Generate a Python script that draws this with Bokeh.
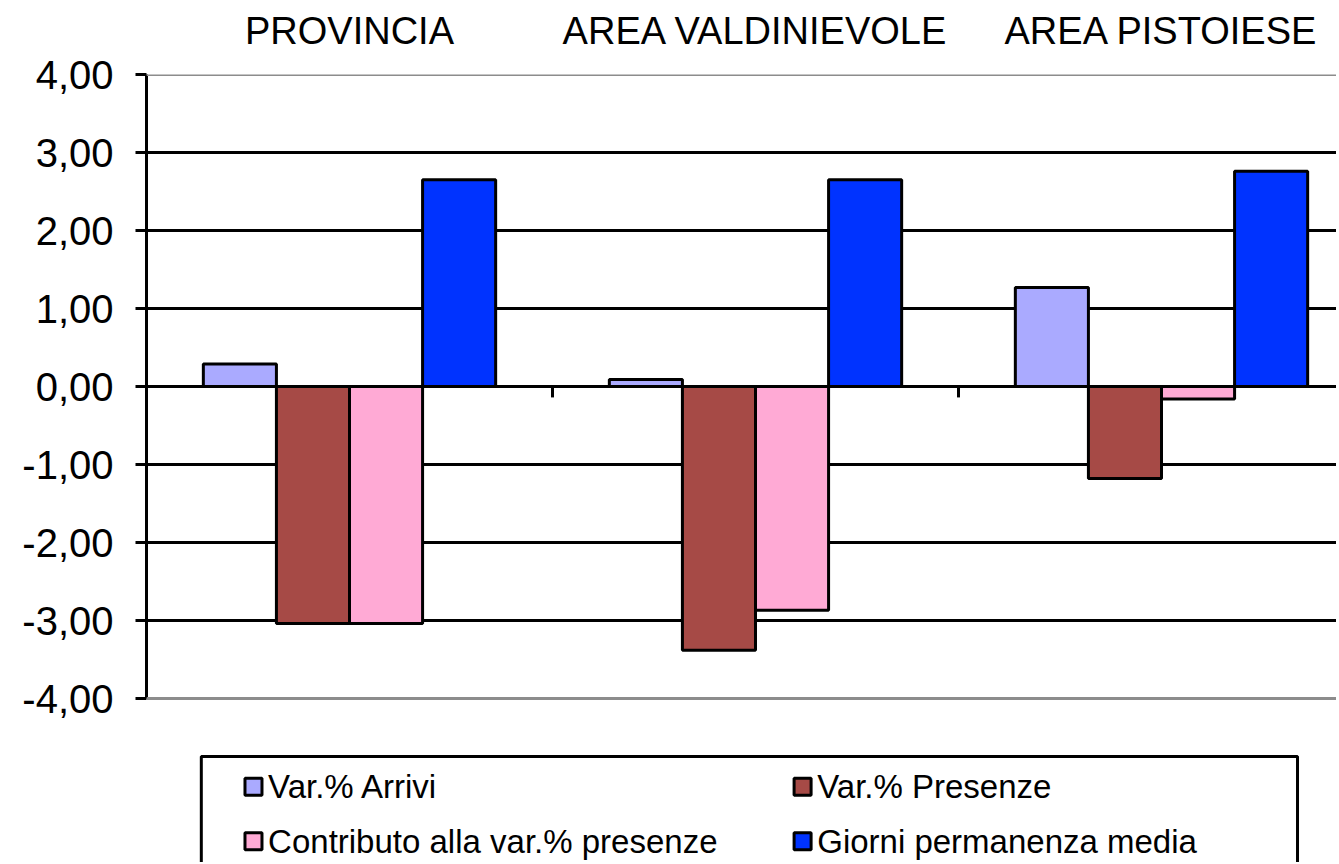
from bokeh.plotting import figure
from bokeh.models import FixedTicker, Range1d, Span
from bokeh.embed import file_html
from bokeh.resources import INLINE
from bokeh.core.properties import value

# ---- data ----
categories = ["PROVINCIA", "AREA VALDINIEVOLE", "AREA PISTOIESE"]
series = ["Var.% Arrivi", "Var.% Presenze",
          "Contributo alla var.% presenze", "Giorni permanenza media"]
colors = ["#AAAAFF", "#A64A46", "#FFAAD5", "#0033FF"]
arrivi = [0.29, 0.09, 1.27]
presenze = [-3.04, -3.38, -1.18]
contributo = [-3.04, -2.87, -0.16]
giorni = [2.65, 2.65, 2.76]
y_ticks = [-4, -3, -2, -1, 0, 1, 2, 3, 4]
y_tick_labels = ["-4,00", "-3,00", "-2,00", "-1,00", "0,00",
                 "1,00", "2,00", "3,00", "4,00"]

FONT = "Liberation Sans"
BAR_W = 0.18
values = [arrivi, presenze, contributo, giorni]

FIG_W, FIG_H = 1336, 862
BORDER_L, BORDER_T = 146, 74
PX_PER_UNIT = 78          # vertical scale
PX_PER_CAT = 406          # horizontal scale
frame_h = FIG_H - BORDER_T
frame_w = FIG_W - BORDER_L
y_low = y_ticks[-1] - frame_h / PX_PER_UNIT   # extra room below for the legend
x_high = frame_w / PX_PER_CAT

p = figure(width=FIG_W, height=FIG_H,
           x_range=Range1d(0, x_high), y_range=Range1d(y_low, y_ticks[-1]),
           output_backend="svg", toolbar_location=None,
           x_axis_location="above",
           min_border_left=BORDER_L, min_border_right=0,
           min_border_top=BORDER_T, min_border_bottom=0,
           outline_line_color=None, background_fill_color="white")

# category labels above
xa = p.xaxis[0]
xa.ticker = FixedTicker(ticks=[i + 0.5 for i in range(len(categories))])
xa.major_label_overrides = {i + 0.5: c for i, c in enumerate(categories)}
xa.axis_line_color = None
xa.major_tick_line_color = None
xa.minor_tick_line_color = None
xa.major_label_text_font = FONT
xa.major_label_text_font_size = "38px"
xa.major_label_text_color = "black"
xa.major_label_standoff = 17

ya = p.yaxis[0]
ya.ticker = FixedTicker(ticks=y_ticks)
ya.bounds = (y_ticks[0], y_ticks[-1])
ya.major_label_overrides = dict(zip(y_ticks, y_tick_labels))
ya.major_label_text_font = FONT
ya.major_label_text_font_size = "40px"
ya.major_label_text_color = "black"
ya.axis_line_color = "black"
ya.axis_line_width = 3
ya.major_tick_line_color = "black"
ya.major_tick_line_width = 3
ya.major_tick_out = 11
ya.major_tick_in = 0
ya.minor_tick_line_color = None
ya.major_label_standoff = 22

p.xgrid.grid_line_color = None
p.ygrid.ticker = FixedTicker(ticks=y_ticks[1:-1])
p.ygrid.grid_line_color = "black"
p.ygrid.grid_line_width = 3

# plot-area border (top and bottom), grey
for loc in (y_ticks[0], y_ticks[-1]):
    p.add_layout(Span(location=loc, dimension="width",
                      line_color="#8C8C8C", line_width=3))

# category separators on the zero line
bounds = list(range(len(categories) + 1))
p.segment(x0=bounds, y0=[0] * len(bounds), x1=bounds, y1=[-0.14] * len(bounds),
          line_color="black", line_width=3)

for j, (vals, col) in enumerate(zip(values, colors)):
    xs = [i + 0.5 + (j - 1.5) * BAR_W for i in range(len(categories))]
    p.vbar(x=xs, top=vals, bottom=0, width=BAR_W,
           fill_color=col, line_color="black", line_width=3)

# ---- legend (boxed, two columns, below the plot area) ----
leg_left, leg_right, leg_top = 0.135, 2.835, -4.745
p.quad(left=[leg_left], right=[leg_right], top=[leg_top], bottom=[y_low - 1],
       fill_color="white", line_color="black", line_width=3)
col_x = [0.2635, 1.616]
row_y = [-5.13, -5.83]
sq_x = [col_x[j % 2] for j in range(len(series))]
sq_y = [row_y[j // 2] for j in range(len(series))]
p.rect(x=sq_x, y=sq_y, width=17, height=17,
       width_units="screen", height_units="screen",
       fill_color=colors, line_color="black", line_width=3)
p.text(x=[x + 0.036 for x in sq_x], y=sq_y, text=series,
       text_font=value(FONT), text_font_size="33px",
       text_baseline="middle", text_align="left", text_color="black")

open("out.html", "w").write(file_html(p, INLINE))
